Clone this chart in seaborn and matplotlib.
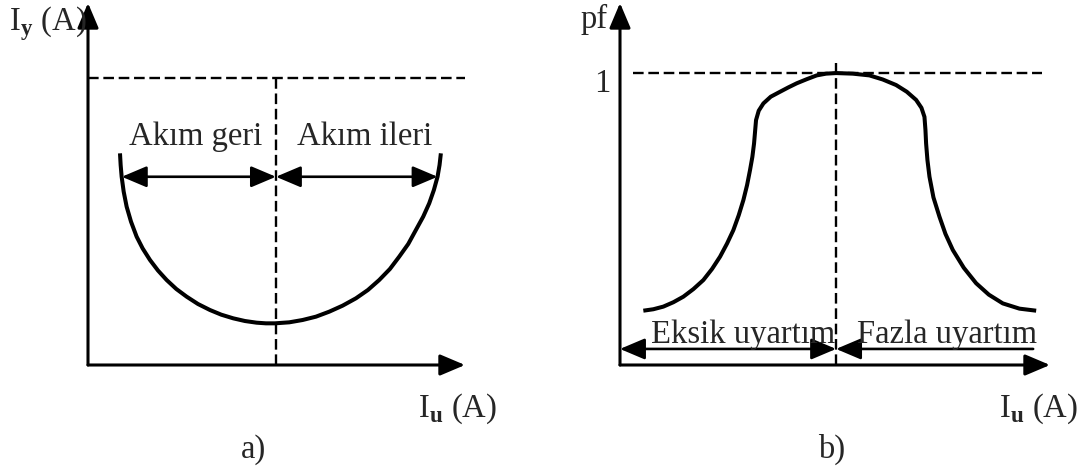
import matplotlib
matplotlib.use("Agg")
import matplotlib.pyplot as plt
import pandas as pd
import seaborn as sns

# ---- a) V-curve: line current against excitation current ----
v_iu = [0.851, 0.869, 0.895, 0.949, 1.028, 1.144, 1.294, 1.454, 1.649, 1.862,
        2.092, 2.349, 2.624, 2.926, 3.245, 3.546, 3.865, 4.176, 4.486, 4.734,
        4.973, 5.355, 5.709, 6.064, 6.418, 6.773, 7.128, 7.447, 7.748, 8.032,
        8.280, 8.520, 8.723, 8.918, 9.078, 9.202, 9.300, 9.353, 9.388]
v_iy = [5.847, 5.52, 5.203, 4.79, 4.374, 3.96, 3.545, 3.22, 2.901, 2.61,
        2.348, 2.10, 1.888, 1.685, 1.519, 1.39, 1.289, 1.215, 1.169, 1.151,
        1.151, 1.179, 1.243, 1.335, 1.473, 1.639, 1.842, 2.072, 2.348, 2.652,
        2.993, 3.343, 3.729, 4.098, 4.466, 4.834, 5.203, 5.525, 5.847]
v_rated = 7.93          # dashed level of panel a
v_center = 5.0          # excitation giving unity power factor
v_arrow_y = 5.20
v_arrow_left = 0.90
v_arrow_right = 9.30
v_labels = ["Akım geri", "Akım ileri"]

# ---- b) power factor against excitation current ----
pf_iu = [0.540, 0.772, 1.003, 1.235, 1.466, 1.698, 1.929, 2.130, 2.315, 2.477,
         2.623, 2.747, 2.855, 2.940, 3.009, 3.063, 3.102, 3.125, 3.148, 3.210,
         3.318, 3.488, 3.704, 3.897, 4.090, 4.321, 4.552, 4.769, 5.000, 5.386,
         5.772, 6.080, 6.389, 6.636, 6.852, 6.975, 7.045, 7.068, 7.083, 7.114,
         7.161, 7.253, 7.392, 7.531, 7.701, 7.955, 8.241, 8.534, 8.858, 9.244,
         9.630]
pf_val = [0.186, 0.191, 0.200, 0.215, 0.234, 0.260, 0.291, 0.329, 0.371, 0.416,
          0.462, 0.513, 0.565, 0.616, 0.668, 0.713, 0.759, 0.799, 0.839, 0.871,
          0.896, 0.919, 0.936, 0.951, 0.965, 0.979, 0.992, 0.998, 1.000, 0.998,
          0.992, 0.978, 0.959, 0.936, 0.908, 0.881, 0.850, 0.805, 0.759, 0.702,
          0.645, 0.574, 0.508, 0.449, 0.394, 0.333, 0.280, 0.241, 0.211, 0.193,
          0.186]
pf_unity = 1.0
pf_center = 5.0
pf_arrow_y = 0.055
pf_arrow_right = 9.56
pf_labels = ["Eksik uyartım", "Fazla uyartım"]

sns.set_theme(style="white")
plt.rcParams["font.family"] = ["Liberation Serif", "DejaVu Serif"]
plt.rcParams["mathtext.fontset"] = "custom"
plt.rcParams["mathtext.rm"] = "Liberation Serif"
plt.rcParams["mathtext.bf"] = "Liberation Serif:bold"

W, H = 1090, 473
fig = plt.figure(figsize=(W / 100, H / 100), dpi=100)
fig.patch.set_facecolor("white")

FS = 23.5
AXIS_ARROW = dict(arrowstyle="-|>,head_length=0.85,head_width=0.36",
                  mutation_scale=18, lw=2.2, color="black",
                  shrinkA=0, shrinkB=0)
DIM_BOTH = dict(arrowstyle="<|-|>,head_length=0.85,head_width=0.36",
                mutation_scale=18, lw=1.9, color="black",
                shrinkA=0, shrinkB=0)
DIM_END = dict(arrowstyle="-|>,head_length=0.85,head_width=0.36",
               mutation_scale=18, lw=1.9, color="black",
               shrinkA=0, shrinkB=0)
DASH = dict(color="black", lw=1.7, dashes=(4.5, 2.0))


def panel_axes(x0, y0, x1, y1):
    """Axes whose lower-left corner is the origin at pixel (x0, y0)."""
    ax = fig.add_axes([x0 / W, (H - y0) / H, (x1 - x0) / W, (y0 - y1) / H])
    ax.set_axis_off()
    return ax


def draw_axes(ax, xmax, ymax):
    ax.annotate("", xy=(xmax, 0), xytext=(0, 0), arrowprops=AXIS_ARROW,
                annotation_clip=False)
    ax.annotate("", xy=(0, ymax), xytext=(0, 0), arrowprops=AXIS_ARROW,
                annotation_clip=False)


# ----------------------------- panel a -----------------------------
ax1 = panel_axes(88, 365, 465, 3)
xa, ya = 10.03, 10.0
ax1.set_xlim(0, xa)
ax1.set_ylim(0, ya)
draw_axes(ax1, xa, ya)

ax1.plot([0, xa], [v_rated, v_rated], **DASH)
ax1.plot([v_center, v_center], [0, v_rated], **DASH)

df_v = pd.DataFrame({"Iu": v_iu, "Iy": v_iy})
sns.lineplot(data=df_v, x="Iu", y="Iy", sort=False, ax=ax1, color="black",
             lw=2.9, solid_joinstyle="round", solid_capstyle="butt",
             legend=False)
ax1.set_axis_off()

ax1.annotate("", xy=(v_arrow_left, v_arrow_y), xytext=(v_center, v_arrow_y),
             arrowprops=DIM_BOTH)
ax1.annotate("", xy=(v_arrow_right, v_arrow_y), xytext=(v_center, v_arrow_y),
             arrowprops=DIM_BOTH)
ax1.text(2.87, 6.08, v_labels[0], ha="center", va="baseline", fontsize=FS)
ax1.text(7.37, 6.08, v_labels[1], ha="center", va="baseline", fontsize=FS)

ax1.text(-0.03, 9.25, r"I$_{\mathbf{y}}$ (A)", ha="right", va="baseline",
         fontsize=FS)
ax1.text(10.88, -1.44, r"I$_{\mathbf{u}}$ (A)", ha="right", va="baseline",
         fontsize=FS)
ax1.text(4.39, -2.57, "a)", ha="center", va="baseline", fontsize=FS)

# ----------------------------- panel b -----------------------------
ax2 = panel_axes(620, 365, 1050, 3)
xb, yb = 9.95, 1.24
ax2.set_xlim(0, xb)
ax2.set_ylim(0, yb)
draw_axes(ax2, xb, yb)

ax2.plot([0.30, 9.77], [pf_unity, pf_unity], **DASH)
ax2.plot([pf_center, pf_center], [0, 1.034], **DASH)

df_pf = pd.DataFrame({"Iu": pf_iu, "pf": pf_val})
sns.lineplot(data=df_pf, x="Iu", y="pf", sort=False, ax=ax2, color="black",
             lw=2.9, solid_joinstyle="round", solid_capstyle="butt",
             legend=False)
ax2.set_axis_off()

ax2.annotate("", xy=(0, pf_arrow_y), xytext=(pf_center, pf_arrow_y),
             arrowprops=DIM_BOTH, annotation_clip=False)
ax2.annotate("", xy=(pf_center, pf_arrow_y), xytext=(pf_arrow_right, pf_arrow_y),
             arrowprops=DIM_END)
ax2.text(2.84, 0.075, pf_labels[0], ha="center", va="baseline", fontsize=FS)
ax2.text(7.56, 0.075, pf_labels[1], ha="center", va="baseline", fontsize=FS)

ax2.text(-0.28, 1.154, "pf", ha="right", va="baseline", fontsize=FS)
ax2.text(-0.21, 0.935, "1", ha="right", va="baseline", fontsize=FS)
ax2.text(10.6, -0.178, r"I$_{\mathbf{u}}$ (A)", ha="right", va="baseline",
         fontsize=FS)
ax2.text(4.90, -0.318, "b)", ha="center", va="baseline", fontsize=FS)

fig.savefig("out.png", dpi=100, facecolor="white")
